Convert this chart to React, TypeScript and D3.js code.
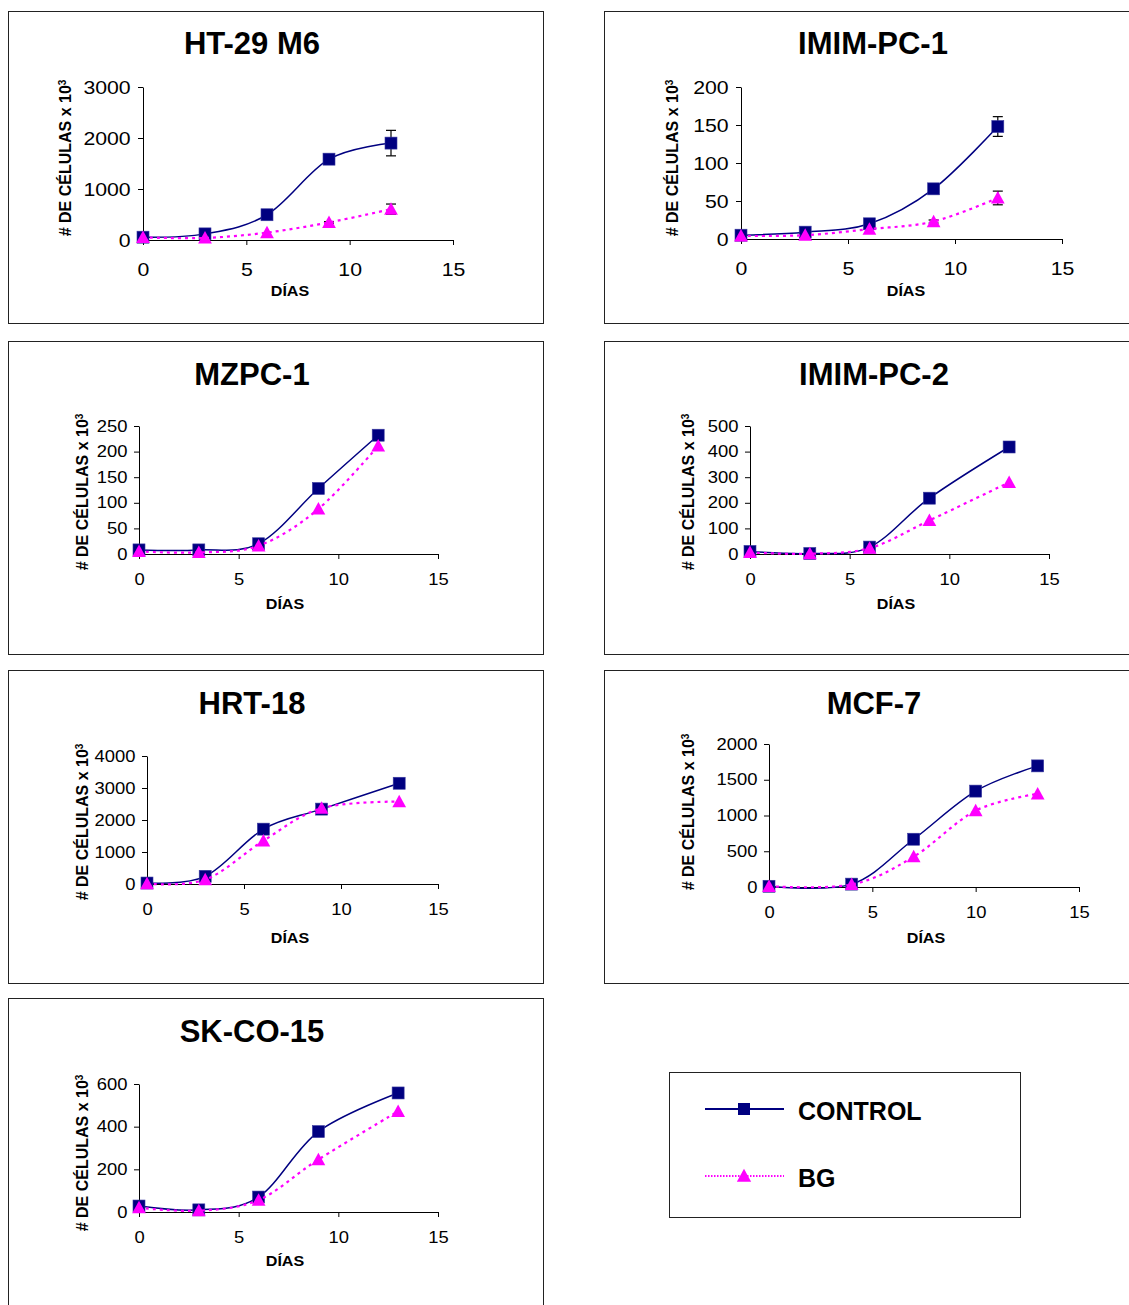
import React, { useEffect, useRef } from 'react';
import * as d3 from 'd3';

// ---- data ----
const TITLES = ['HT-29 M6', 'IMIM-PC-1', 'MZPC-1', 'IMIM-PC-2', 'HRT-18', 'MCF-7', 'SK-CO-15'];
const X_TICKS = [0, 5, 10, 15];
const SERIES_NAMES = ['CONTROL', 'BG'];

const HT29_DAYS = [0, 3, 6, 9, 12];
const HT29_CONTROL = [55, 120, 495, 1585, 1900];
const HT29_BG = [50, 40, 145, 345, 605];
const HT29_CONTROL_ERR = [0, 0, 0, 0, 250];
const HT29_BG_ERR = [0, 0, 0, 15, 100];
const HT29_Y_TICKS = [0, 1000, 2000, 3000];

const IMIM1_DAYS = [0, 3, 6, 9, 12];
const IMIM1_CONTROL = [5, 9, 20, 66, 148];
const IMIM1_BG = [4, 5, 13, 23, 54];
const IMIM1_CONTROL_ERR = [0, 0, 0, 0, 13];
const IMIM1_BG_ERR = [0, 0, 0, 2, 9];
const IMIM1_Y_TICKS = [0, 50, 100, 150, 200];

const MZPC_DAYS = [0, 3, 6, 9, 12];
const MZPC_CONTROL = [8, 8, 20, 128, 232];
const MZPC_BG = [5, 3, 16, 88, 211];
const MZPC_Y_TICKS = [0, 50, 100, 150, 200, 250];

const IMIM2_DAYS = [0, 3, 6, 9, 13];
const IMIM2_CONTROL = [10, 2, 27, 218, 418];
const IMIM2_BG = [6, 1, 23, 131, 280];
const IMIM2_Y_TICKS = [0, 100, 200, 300, 400, 500];

const HRT_DAYS = [0, 3, 6, 9, 13];
const HRT_CONTROL = [30, 240, 1714, 2340, 3148];
const HRT_BG = [10, 135, 1350, 2370, 2577];
const HRT_Y_TICKS = [0, 1000, 2000, 3000, 4000];

const MCF_DAYS = [0, 4, 7, 10, 13];
const MCF_CONTROL = [10, 40, 668, 1341, 1694];
const MCF_BG = [10, 35, 424, 1068, 1304];
const MCF_Y_TICKS = [0, 500, 1000, 1500, 2000];

const SKCO_DAYS = [0, 3, 6, 9, 13];
const SKCO_CONTROL = [28, 10, 70, 377, 558];
const SKCO_BG = [20, 6, 56, 246, 472];
const SKCO_Y_TICKS = [0, 200, 400, 600];

const NAVY = '#000080';
const MAGENTA = '#FF00FF';
const FONT = '"Liberation Sans", Arial, sans-serif';

// ---- layout of each panel (box, plot area, text anchors) ----
const panels = [
  { days: HT29_DAYS, control: HT29_CONTROL, bg: HT29_BG, cErr: HT29_CONTROL_ERR, bErr: HT29_BG_ERR, yTicks: HT29_Y_TICKS,
    box: [8, 11, 535, 312], x: [143, 453], y: [240, 87], title: [252, 54], xlab: [290, 296], ylab: [65, 158], big: true },
  { days: IMIM1_DAYS, control: IMIM1_CONTROL, bg: IMIM1_BG, cErr: IMIM1_CONTROL_ERR, bErr: IMIM1_BG_ERR, yTicks: IMIM1_Y_TICKS,
    box: [604, 11, 540, 312], x: [741, 1062], y: [239, 87], title: [873, 54], xlab: [906, 296], ylab: [672, 158], big: true },
  { days: MZPC_DAYS, control: MZPC_CONTROL, bg: MZPC_BG, yTicks: MZPC_Y_TICKS,
    box: [8, 341, 535, 313], x: [139, 438], y: [554, 426], title: [252, 385], xlab: [285, 609], ylab: [82, 492] },
  { days: IMIM2_DAYS, control: IMIM2_CONTROL, bg: IMIM2_BG, yTicks: IMIM2_Y_TICKS,
    box: [604, 341, 540, 313], x: [750, 1049], y: [554, 426], title: [874, 385], xlab: [896, 609], ylab: [688, 492] },
  { days: HRT_DAYS, control: HRT_CONTROL, bg: HRT_BG, yTicks: HRT_Y_TICKS,
    box: [8, 670, 535, 313], x: [147, 438], y: [884, 756], title: [252, 714], xlab: [290, 943], ylab: [82, 822] },
  { days: MCF_DAYS, control: MCF_CONTROL, bg: MCF_BG, yTicks: MCF_Y_TICKS,
    box: [604, 670, 540, 313], x: [769, 1079], y: [887, 744], title: [874, 714], xlab: [926, 943], ylab: [688, 812] },
  { days: SKCO_DAYS, control: SKCO_CONTROL, bg: SKCO_BG, yTicks: SKCO_Y_TICKS,
    box: [8, 998, 535, 320], x: [139, 438], y: [1212, 1084], title: [252, 1042], xlab: [285, 1266], ylab: [82, 1153] },
];

const triangle = (s: number) => `M0,${-s * 0.55}L${s * 0.55},${s * 0.45}L${-s * 0.55},${s * 0.45}Z`;

function drawPanel(svg: any, p: any, i: number) {
  svg.append('rect')
    .attr('x', p.box[0] + 0.5).attr('y', p.box[1] + 0.5)
    .attr('width', p.box[2]).attr('height', p.box[3])
    .attr('fill', 'none').attr('stroke', '#222').attr('stroke-width', 1);

  svg.append('text')
    .text(TITLES[i])
    .attr('x', p.title[0]).attr('y', p.title[1])
    .attr('text-anchor', 'middle')
    .attr('font-family', FONT).attr('font-weight', 'bold').attr('font-size', 31);

  const xScale = d3.scaleLinear().domain([0, 15]).range(p.x);
  const yScale = d3.scaleLinear().domain([0, p.yTicks[p.yTicks.length - 1]]).range(p.y);
  const fontSize = p.big ? 19 : 16;
  const sx = p.big ? 1.12 : 1.15;

  const xAxis = d3.axisBottom(xScale).tickValues(X_TICKS).tickSizeInner(5).tickSizeOuter(0)
    .tickPadding(p.big ? 18 : 15).tickFormat(d3.format('d'));
  const yAxis = d3.axisLeft(yScale).tickValues(p.yTicks).tickSizeInner(5).tickSizeOuter(0)
    .tickPadding(p.big ? 6 : 5).tickFormat(d3.format('d'));

  const gx = svg.append('g').attr('transform', 'translate(0,' + p.y[0] + ')').call(xAxis);
  const gy = svg.append('g').attr('transform', 'translate(' + p.x[0] + ',0)').call(yAxis);
  [gx, gy].forEach((g) => {
    g.selectAll('path,line').attr('stroke', '#000');
    g.selectAll('text')
      .attr('font-family', FONT).attr('font-size', fontSize).attr('fill', '#000')
      .attr('transform', 'scale(' + sx + ',1)');
  });

  svg.append('text')
    .text('DÍAS')
    .attr('transform', 'translate(' + p.xlab[0] + ',' + p.xlab[1] + ') scale(1.15,1)')
    .attr('text-anchor', 'middle')
    .attr('font-family', FONT).attr('font-weight', 'bold').attr('font-size', 14);

  const yl = svg.append('text')
    .attr('transform', 'translate(' + p.ylab[0] + ',' + p.ylab[1] + ') rotate(-90)')
    .attr('text-anchor', 'middle').attr('dy', '0.35em')
    .attr('font-family', FONT).attr('font-weight', 'bold').attr('font-size', 16);
  yl.append('tspan').text('# DE CÉLULAS x 10');
  yl.append('tspan').text('3').attr('font-size', 10).attr('dy', '-0.45em');

  const curve = d3.curveCardinal.tension(0);
  const line = d3.line<number>()
    .x((d, k) => xScale(p.days[k]))
    .y((d) => yScale(d))
    .curve(curve);

  // error bars
  const drawErr = (vals: number[], errs: number[]) => {
    if (!errs) return;
    errs.forEach((e, k) => {
      if (!e) return;
      const cx = xScale(p.days[k]);
      const top = yScale(vals[k] + e);
      const bot = yScale(vals[k] - e);
      const g = svg.append('g').attr('stroke', '#000').attr('stroke-width', 1.2);
      g.append('line').attr('x1', cx).attr('x2', cx).attr('y1', top).attr('y2', bot);
      g.append('line').attr('x1', cx - 5).attr('x2', cx + 5).attr('y1', top).attr('y2', top);
      g.append('line').attr('x1', cx - 5).attr('x2', cx + 5).attr('y1', bot).attr('y2', bot);
    });
  };
  drawErr(p.control, p.cErr);
  drawErr(p.bg, p.bErr);

  svg.append('path').datum(p.control).attr('d', line)
    .attr('fill', 'none').attr('stroke', NAVY).attr('stroke-width', 1.5);
  svg.append('g').selectAll('rect').data(p.control).enter().append('rect')
    .attr('x', (d: number, k: number) => xScale(p.days[k]) - 6)
    .attr('y', (d: number) => yScale(d) - 6)
    .attr('width', 12).attr('height', 12)
    .attr('fill', NAVY).attr('stroke', '#3a3aa0').attr('stroke-width', 0.6);

  svg.append('path').datum(p.bg).attr('d', line)
    .attr('fill', 'none').attr('stroke', MAGENTA).attr('stroke-width', 2.2)
    .attr('stroke-dasharray', '3,4');
  svg.append('g').selectAll('path').data(p.bg).enter().append('path')
    .attr('d', triangle(12.5))
    .attr('transform', (d: number, k: number) => 'translate(' + xScale(p.days[k]) + ',' + yScale(d) + ')')
    .attr('fill', MAGENTA);
}

function drawLegend(svg: any) {
  svg.append('rect')
    .attr('x', 669.5).attr('y', 1072.5).attr('width', 351).attr('height', 145)
    .attr('fill', 'none').attr('stroke', '#222').attr('stroke-width', 1);
  const rows = [
    { y: 1109, color: NAVY, dash: null, width: 2 },
    { y: 1176, color: MAGENTA, dash: '1.5,1.5', width: 2 },
  ];
  rows.forEach((r, i) => {
    svg.append('line').attr('x1', 705).attr('x2', 784).attr('y1', r.y).attr('y2', r.y)
      .attr('stroke', r.color).attr('stroke-width', r.width)
      .attr('stroke-dasharray', r.dash);
    if (i === 0) {
      svg.append('rect').attr('x', 738).attr('y', r.y - 6).attr('width', 12).attr('height', 12).attr('fill', NAVY);
    } else {
      svg.append('path').attr('d', triangle(13)).attr('transform', 'translate(744,' + r.y + ')').attr('fill', MAGENTA);
    }
    svg.append('text').text(SERIES_NAMES[i])
      .attr('x', 798).attr('y', r.y + 11)
      .attr('font-family', FONT).attr('font-weight', 'bold').attr('font-size', 25);
  });
}

export default function App() {
  const ref = useRef<SVGSVGElement>(null);
  useEffect(() => {
    const svg = d3.select(ref.current);
    svg.selectAll('*').remove();
    svg.append('rect').attr('width', 1129).attr('height', 1305).attr('fill', '#fff');
    panels.forEach((p, i) => drawPanel(svg, p, i));
    drawLegend(svg);
  }, []);
  return (
    <svg ref={ref} width={1129} height={1305}
      style={{ position: 'absolute', left: 0, top: 0, display: 'block' }} />
  );
}
